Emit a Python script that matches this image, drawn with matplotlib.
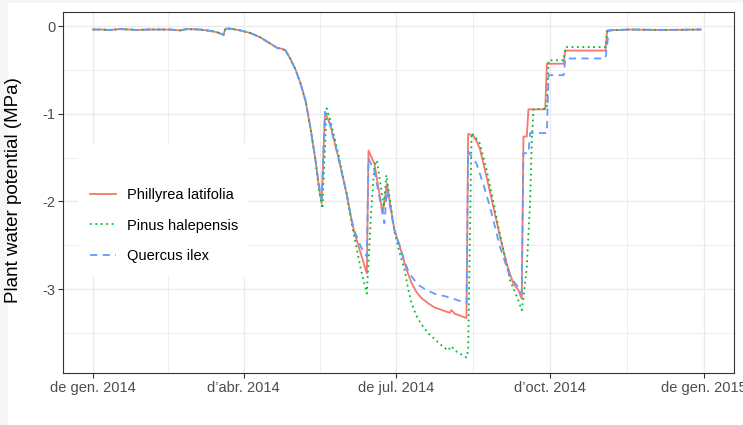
import pandas as pd
import matplotlib.pyplot as plt
from matplotlib.patches import Rectangle

plt.rcParams['font.family'] = ['Liberation Sans', 'DejaVu Sans']

# Days since 2014-01-01 and plant water potential (MPa)
early_days = [0, 5, 10, 16, 22, 26, 33, 40, 46, 52, 56, 64, 70, 74, 78, 79, 82, 88, 94,
              100, 105, 110, 113, 115, 118, 121, 124, 127, 130, 133]
early_vals = [-0.04, -0.04, -0.045, -0.035, -0.04, -0.045, -0.04, -0.04, -0.04, -0.05, -0.035,
              -0.04, -0.055, -0.07, -0.10, -0.03, -0.03, -0.05, -0.08, -0.13, -0.19, -0.25,
              -0.26, -0.28, -0.38, -0.50, -0.66, -0.86, -1.18, -1.55]

phillyrea_days = [135, 136.5, 138.5, 141.4, 146.4, 151.4, 154.4, 156, 160, 162, 163.5, 164.5,
                  168, 171, 173, 175.5, 180, 183, 186, 188, 190, 193, 196, 200, 204, 210, 213,
                  214, 216, 223, 224, 227, 229, 231, 235, 239, 243, 247, 251, 254, 256, 257,
                  259, 260, 270, 271, 281, 282, 306, 307, 320, 340, 363]
phillyrea_vals = [-1.85, -2.02, -0.98, -1.11, -1.49, -1.91, -2.21, -2.35, -2.60, -2.73, -2.82,
                  -1.42, -1.57, -1.91, -2.14, -1.80, -2.33, -2.50, -2.70, -2.82, -2.92, -3.03,
                  -3.10, -3.16, -3.21, -3.25, -3.27, -3.24, -3.28, -3.33, -1.23, -1.25, -1.31,
                  -1.40, -1.72, -2.06, -2.40, -2.71, -2.94, -3.01, -3.11, -1.26, -1.26, -0.95,
                  -0.95, -0.43, -0.43, -0.28, -0.28, -0.05, -0.04, -0.045, -0.04]

pinus_days = [135, 137, 139.5, 141.4, 146.4, 151.4, 154.4, 156, 160, 163.5, 166, 168, 169.5,
              172, 173.6, 175.2, 180, 183, 186, 188, 190, 193, 196, 200, 204, 208, 212, 214,
              216, 223, 224, 226, 228, 231, 235, 239, 243, 249, 254, 256, 257, 259, 261, 262,
              263, 271, 272, 281, 282, 306, 307, 320, 340, 363]
pinus_vals = [-1.88, -2.08, -0.94, -1.05, -1.45, -1.91, -2.25, -2.40, -2.78, -3.05, -2.14,
              -1.60, -1.53, -1.85, -2.06, -1.70, -2.35, -2.58, -2.78, -2.98, -3.15, -3.30,
              -3.40, -3.50, -3.57, -3.64, -3.70, -3.65, -3.70, -3.78, -3.70, -1.22, -1.26,
              -1.34, -1.64, -2.00, -2.38, -2.90, -3.13, -3.24, -3.10, -2.75, -2.00, -1.30,
              -0.95, -0.94, -0.39, -0.39, -0.24, -0.24, -0.05, -0.04, -0.045, -0.04]

quercus_days = [135, 136.5, 138.5, 141.4, 146.4, 151.4, 154.4, 156, 160, 163.5, 164.5, 168,
                171, 174, 175.5, 180, 183, 186, 188, 190, 194, 200, 205, 210, 215, 220, 223,
                224, 229, 233, 237, 243, 249, 254, 256, 257, 260, 261, 271, 272, 281, 282,
                306, 308, 320, 340, 363]
quercus_vals = [-1.82, -1.98, -0.98, -1.11, -1.49, -1.91, -2.21, -2.33, -2.52, -2.63, -1.51,
                -1.65, -1.95, -2.25, -1.87, -2.33, -2.50, -2.68, -2.78, -2.85, -2.95, -3.02,
                -3.06, -3.08, -3.11, -3.14, -3.16, -1.43, -1.57, -1.80, -2.06, -2.52, -2.86,
                -2.98, -3.05, -1.45, -1.45, -1.22, -1.22, -0.56, -0.56, -0.37, -0.37, -0.05,
                -0.04, -0.045, -0.04]

species = ['Phillyrea latifolia', 'Pinus halepensis', 'Quercus ilex']
colors = ['#F8766D', '#00BA38', '#619CFF']
dash_styles = [None, (1, 2.0), (4, 3)]

tick_dates = ['2014-01-01', '2014-04-01', '2014-07-01', '2014-10-01', '2015-01-01']
tick_labels = ['de gen. 2014', 'd\u2019abr. 2014', 'de jul. 2014', 'd\u2019oct. 2014', 'de gen. 2015']
minor_days = [45, 135.5, 227, 319]  # midpoints between the major breaks
y_major = [0, -1, -2, -3]
y_minor = [-0.5, -1.5, -2.5, -3.5]

start = pd.Timestamp('2014-01-01')


def to_dates(days):
    return start + pd.to_timedelta(days, unit='D')


series_days = [phillyrea_days, pinus_days, quercus_days]
series_vals = [phillyrea_vals, pinus_vals, quercus_vals]

fig = plt.figure(figsize=(7.43, 4.25), dpi=100, facecolor='#f4f6f8')
# white page area behind the plot
fig.add_artist(Rectangle((8 / 743, 0), 1, 1 - 3 / 425, transform=fig.transFigure,
                         facecolor='white', edgecolor='none', zorder=-10))
ax = fig.add_axes([63 / 743, 1 - 373.3 / 425, 671.3 / 743, 361.3 / 425])
ax.set_zorder(1)
ax.set_facecolor('white')

for name, col, dash, d, v in zip(species, colors, dash_styles, series_days, series_vals):
    x = to_dates(early_days + d)
    y = early_vals + v
    line, = ax.plot(x, y, color=col, lw=1.3, label=name, zorder=3)
    if dash is not None:
        line.set_dashes(dash)

# axes ranges (ggplot style expansion)
ax.set_xlim(start - pd.Timedelta(days=17.9), start + pd.Timedelta(days=382.9))
ax.set_ylim(-3.96, 0.16)

ax.set_xticks(pd.to_datetime(tick_dates))
ax.set_xticklabels(tick_labels)
ax.set_xticks(to_dates(minor_days), minor=True)
ax.set_yticks(y_major)
ax.set_yticklabels([str(v) for v in y_major])
ax.set_yticks(y_minor, minor=True)

ax.grid(True, which='major', color='#EBEBEB', lw=1.0, zorder=0)
ax.grid(True, which='minor', color='#EBEBEB', lw=0.6, zorder=0)
ax.set_axisbelow(True)

ax.tick_params(which='major', length=3.5, width=0.8, color='#333333', labelcolor='#4D4D4D',
               labelsize=10.5, pad=2)
ax.tick_params(which='minor', length=0)
for sp in ax.spines.values():
    sp.set_color('#333333')
    sp.set_linewidth(0.8)

ax.set_ylabel('Plant water potential (MPa)', fontsize=13.5, color='black')
ax.yaxis.set_label_coords(-0.061, 0.507)

# legend background box (covers grid like ggplot's legend.background)
ax.add_patch(Rectangle((0.0223, 0.2665), 0.2533, 0.3709, transform=ax.transAxes,
                       facecolor='white', edgecolor='none', zorder=2))
leg = ax.legend(loc='upper left', bbox_to_anchor=(0.0316, 0.530), frameon=False, fontsize=10.5,
                handlelength=1.8, handletextpad=0.75, labelspacing=1.16, borderaxespad=0)
leg.set_zorder(4)

plt.savefig('out.png', dpi=100, facecolor=fig.get_facecolor())
